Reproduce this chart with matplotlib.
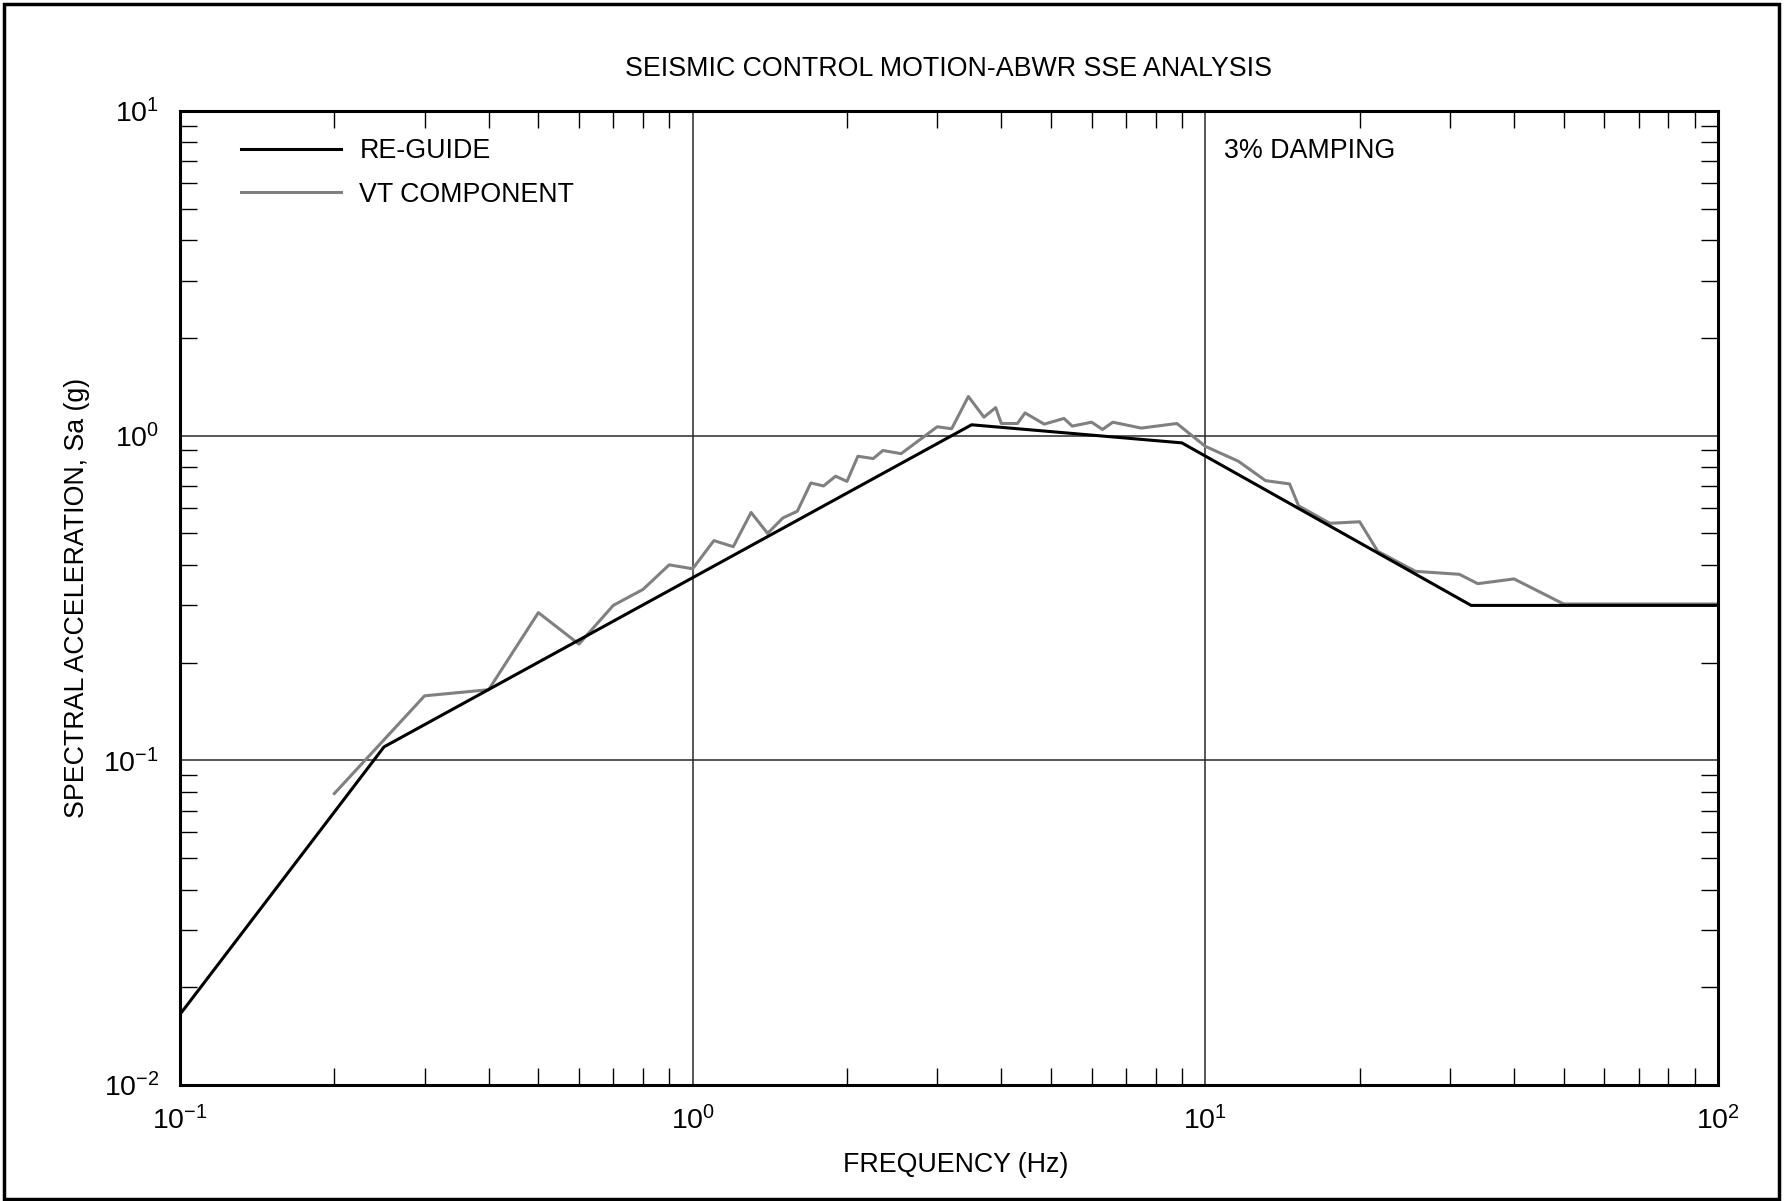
import matplotlib
matplotlib.use("Agg")
import matplotlib.pyplot as plt
from matplotlib.ticker import LogLocator, LogFormatterMathtext, NullFormatter
from matplotlib.patches import Rectangle

plt.rcParams["font.family"] = ["Liberation Sans", "DejaVu Sans"]
plt.rcParams["mathtext.fontset"] = "custom"
plt.rcParams["mathtext.rm"] = "Liberation Sans"
plt.rcParams["mathtext.it"] = "Liberation Sans:italic"
plt.rcParams["mathtext.bf"] = "Liberation Sans:bold"

# RE-GUIDE design spectrum
guide_freq = [0.1, 0.25, 3.5, 9.0, 33.0, 100.0]
guide_sa = [0.0165, 0.11, 1.08, 0.95, 0.30, 0.30]

# VT component response spectrum
vt_freq = [0.2, 0.3, 0.4, 0.5, 0.6, 0.7, 0.8, 0.9, 1.0, 1.1, 1.2, 1.3, 1.4,
           1.5, 1.6, 1.7, 1.8, 1.9, 2.0, 2.1, 2.25, 2.35, 2.55, 3.0, 3.2,
           3.45, 3.7, 3.9, 4.0, 4.3, 4.45, 4.85, 5.3, 5.5, 6.0, 6.3, 6.6,
           7.5, 8.8, 10.0, 11.6, 13.1, 14.6, 15.2, 17.5, 20.0, 21.7, 25.7,
           31.3, 34.0, 40.0, 50.0, 100.0]
vt_sa = [0.079, 0.158, 0.165, 0.285, 0.228, 0.30, 0.336, 0.40, 0.389, 0.475,
         0.455, 0.58, 0.50, 0.558, 0.585, 0.715, 0.70, 0.75, 0.723, 0.864,
         0.85, 0.90, 0.88, 1.065, 1.05, 1.32, 1.14, 1.22, 1.09, 1.09, 1.175,
         1.085, 1.13, 1.07, 1.10, 1.045, 1.10, 1.055, 1.09, 0.927, 0.834,
         0.727, 0.71, 0.608, 0.537, 0.543, 0.44, 0.382, 0.374, 0.35, 0.362,
         0.303, 0.303]

FS = 19.3

fig = plt.figure(figsize=(17.84, 12.01), dpi=100)
ax = fig.add_axes([0.1009, 0.0966, 0.8621, 0.811])

ax.plot(guide_freq, guide_sa, color="black", lw=2.2, label="RE-GUIDE", zorder=3)
ax.plot(vt_freq, vt_sa, color="#808080", lw=2.2, label="VT COMPONENT", zorder=2)

ax.set_xscale("log")
ax.set_yscale("log")
ax.set_xlim(0.1, 100)
ax.set_ylim(0.01, 10)

for axis in (ax.xaxis, ax.yaxis):
    axis.set_major_locator(LogLocator(base=10, numticks=10))
    axis.set_major_formatter(LogFormatterMathtext())
    axis.set_minor_locator(LogLocator(base=10, subs=range(2, 10), numticks=20))
    axis.set_minor_formatter(NullFormatter())

ax.tick_params(which="major", length=0, labelsize=20.5, pad=15)
ax.tick_params(which="minor", direction="in", length=12, width=1.0,
               top=True, right=True, bottom=True, left=True)
ax.grid(which="major", color="#2a2a2a", lw=1.1)
for sp in ax.spines.values():
    sp.set_linewidth(2.2)

ax.set_title("SEISMIC CONTROL MOTION-ABWR SSE ANALYSIS", fontsize=FS, pad=25)
ax.set_xlabel("FREQUENCY (Hz)", fontsize=FS, labelpad=12)
ax.xaxis.label.set_x(0.5045)
ax.set_ylabel("SPECTRAL ACCELERATION, Sa (g)", fontsize=FS, labelpad=10)
ax.text(0.679, 0.959, "3% DAMPING", transform=ax.transAxes, fontsize=FS,
        va="center", ha="left")

ax.legend(loc="upper left", bbox_to_anchor=(0.0237, 0.997), frameon=False,
          fontsize=FS, handlelength=3.73, handletextpad=0.7, labelspacing=0.66)

fig.patches.append(Rectangle((0.002, 0.002), 0.995, 0.995,
                             transform=fig.transFigure, fill=False,
                             edgecolor="black", lw=2.5))

fig.savefig("out.png", dpi=100)
